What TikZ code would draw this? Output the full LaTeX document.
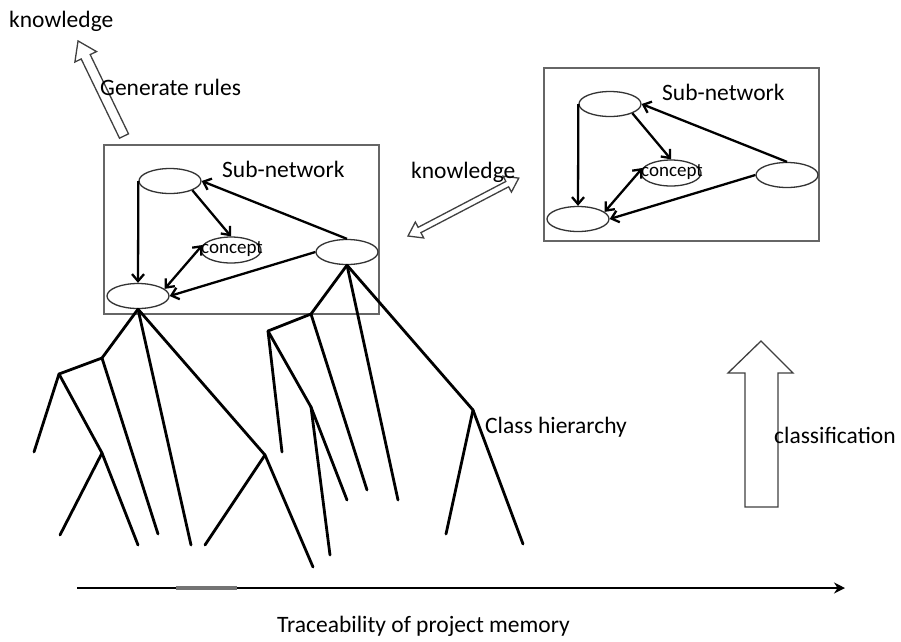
\documentclass[tikz,border=0pt]{standalone}
\usepackage{fontspec}
\setmainfont{Carlito}
\usetikzlibrary{arrows.meta,shapes.geometric}
\tikzset{
  lbl/.style={font=\fontsize{23.5}{28}\selectfont, inner sep=0pt, anchor=base west, text=black},
  ell/.style={ellipse, draw=black!80, line width=1.3pt, fill=white, minimum width=62pt, minimum height=25pt, inner sep=0pt},
  frame/.style={draw=black!60, line width=1.6pt, anchor=north west, minimum width=275pt, inner sep=0pt},
  rel/.style={line width=2.3pt, -{Straight Barb[length=7pt,width=12pt]}},
  relboth/.style={line width=2.3pt, {Straight Barb[length=7pt,width=12pt]}-{Straight Barb[length=7pt,width=12pt]}},
  branch/.style={line width=2.8pt, line cap=round, line join=round},
  fat/.style={draw=black!75, line width=1.3pt, fill=white, line join=miter},
}
\newcommand\subnet[3]{%
  \begin{scope}[shift={#2}]
    \node[frame, minimum height=#3] (#1box) at (103,144) {};
    \node[lbl] (#1title) at (222,177) {Sub-network};
    \node[ell] (#1A) at (170,181) {};
    \node[ell, minimum width=60pt, minimum height=26pt] (#1C) at (231,250) {};
    \node[inner sep=0pt, font=\fontsize{19}{21}\selectfont, text=black] (#1Ct) at (232,249) {concept};
    \node[ell] (#1D) at (347,252) {};
    \node[ell] (#1B) at (138,296) {};
    \draw[rel] (#1A.west) -- (#1B.north);
    \draw[rel] (#1A.south east) -- (#1C.north);
    \draw[rel] (#1D.north) -- (#1A.east);
    \draw[rel] (#1D.west) -- (#1B.east);
    \draw[relboth] (#1B.15) -- (#1C.170);
  \end{scope}}
\begin{document}
\begin{tikzpicture}[x=1pt,y=-1pt]
\useasboundingbox (0,0) rectangle (901,641);
\fill[white] (0,0) rectangle (901,641);

% sub-networks
\subnet{L}{(0,0)}{169pt}
\subnet{R}{(440,-77)}{173pt}

% left class tree
\coordinate (n1) at (102,358);
\coordinate (n2) at (59,374);
\coordinate (n3) at (102,453);
\coordinate (n4) at (265,455);
\coordinate (l1) at (34,452);
\coordinate (l2) at (60,535);
\coordinate (l3) at (138,545);
\coordinate (l4) at (158,534);
\coordinate (l5) at (191,545);
\coordinate (l6) at (205,545);
\coordinate (l7) at (313,567);
\draw[branch] (LB.south) -- (n1) -- (n2) -- (l1);
\draw[branch] (n2) -- (n3) -- (l3);
\draw[branch] (n3) -- (l2);
\draw[branch] (n1) -- (l4);
\draw[branch] (LB.south) -- (l5);
\draw[branch] (LB.south) -- (n4) -- (l7);
\draw[branch] (n4) -- (l6);

% right class tree
\coordinate (m1) at (311,314);
\coordinate (m2) at (268,331);
\coordinate (m3) at (311,407);
\coordinate (m4) at (473,410);
\coordinate (r1) at (282,452);
\coordinate (r2) at (347,500);
\coordinate (r3) at (330,555);
\coordinate (r4) at (367,490);
\coordinate (r5) at (398,500);
\coordinate (r6) at (446,534);
\coordinate (r7) at (523,544);
\draw[branch] (LD.south) -- (m1) -- (m2) -- (r1);
\draw[branch] (m2) -- (m3) -- (r2);
\draw[branch] (m3) -- (r3);
\draw[branch] (m1) -- (r4);
\draw[branch] (LD.south) -- (r5);
\draw[branch] (LD.south) -- (m4) -- (r7);
\draw[branch] (m4) -- (r6);

% generate rules arrow
\begin{scope}[shift={(124,136)}, rotate=115.8]
  \draw[fat] (0,-5) -- (88,-5) -- (88,-12) -- (105.6,0) -- (88,12) -- (88,5) -- (0,5) -- cycle;
\end{scope}
% knowledge double arrow
\begin{scope}[shift={(408,236)}, rotate=27.6]
  \draw[fat] (0,0) -- (13,-9) -- (13,-3) -- (112,-3) -- (112,-9) -- (125,0) -- (112,9) -- (112,3) -- (13,3) -- (13,9) -- cycle;
\end{scope}
% classification arrow
\draw[fat] (745,507) -- (745,373) -- (728,373) -- (761,341) -- (793,373) -- (778,373) -- (778,507) -- cycle;

% axis
\coordinate (ax0) at (77,588);
\coordinate (ax1) at (845,588);
\coordinate (g0) at (176,588);
\coordinate (g1) at (237,588);
\draw[line width=2.5pt, -{Stealth[length=11pt,width=11pt]}] (ax0) -- (ax1);
\draw[line width=3.6pt, black!55] (g0) -- (g1);

% labels
\node[lbl] (kn1) at (9,27) {knowledge};
\node[lbl] (gen) at (100,95) {Generate rules};
\node[lbl] (kn2) at (411,178) {knowledge};
\node[lbl] (cls) at (485,433) {Class hierarchy};
\node[lbl] (clf) at (774,443) {classification};
\node[lbl] (trc) at (277,632) {Traceability of project memory};
\end{tikzpicture}
\end{document}
